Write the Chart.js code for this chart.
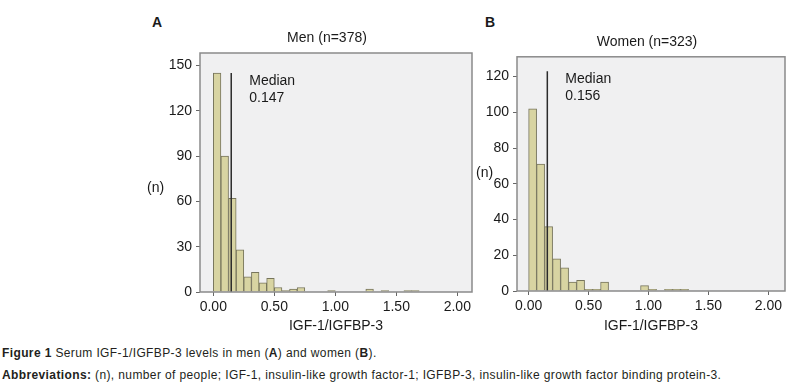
<!DOCTYPE html>
<html lang="en">
<head>
    <meta charset="UTF-8">
    <title>Serum IGF-1/IGFBP-3 levels</title>
    <script src="https://cdn.jsdelivr.net/npm/chart.js"></script>
    <style>
        body {
            margin: 0;
            width: 805px;
            height: 388px;
            position: relative;
            overflow: hidden;
            background: #fff;
            color: #1a1a1a;
            font-family: 'Liberation Sans', Arial, sans-serif;
        }
        .abs { position: absolute; }
        #men-box { left: 130px; top: 25px; width: 350px; height: 320px; }
        #women-box { left: 467px; top: 28px; width: 328px; height: 316px; }
        .panel { font-size: 14px; font-weight: bold; line-height: 16px; }
        .nlab { font-size: 14px; line-height: 16px; }
        .caption { left: 2px; font-size: 12px; line-height: 14px; letter-spacing: 0.38px; white-space: nowrap; color: #231f20; }
    </style>
</head>
<body>
    <div class="abs panel" style="left:152px; top:14px;">A</div>
    <div class="abs panel" style="left:485px; top:14px;">B</div>

    <div class="abs" id="men-box"><canvas id="menChart"></canvas></div>
    <div class="abs" id="women-box"><canvas id="womenChart"></canvas></div>

    <div class="abs nlab" style="left:147px; top:179px;">(n)</div>
    <div class="abs nlab" style="left:476px; top:164px;">(n)</div>

    <div class="abs caption" style="top:346px;"><b>Figure 1</b> Serum IGF-1/IGFBP-3 levels in men (<b>A</b>) and women (<b>B</b>).</div>
    <div class="abs caption" style="top:368px;"><b>Abbreviations:</b> (n), number of people; IGF-1, insulin-like growth factor-1; IGFBP-3, insulin-like growth factor binding protein-3.</div>

    <script>
        // histogram bins start at 0.00, counts
        const menBinWidth = 0.0625;
        const menCounts = [145, 90, 62, 28, 10, 13, 6, 9, 3, 1, 2, 3, 0, 0, 0, 1, 0, 0, 0, 0, 2, 0, 1, 0, 0, 1, 1];
        const menMedian = 0.147;
        const menMedianTop = 145;
        const menYTicks = [0, 30, 60, 90, 120, 150];

        const womenBinWidth = 0.0667;
        const womenCounts = [102, 71, 36, 18, 13, 5, 6, 1, 1, 5, 0, 0, 0, 0, 3, 1, 0, 1, 1, 1];
        const womenMedian = 0.156;
        const womenMedianTop = 123;
        const womenYTicks = [0, 20, 40, 60, 80, 100, 120];

        const xTicks = [0, 0.5, 1, 1.5, 2];

        Chart.defaults.font.family = "'Liberation Sans', Arial, sans-serif";
        Chart.defaults.font.size = 14;
        Chart.defaults.color = '#1a1a1a';

        // grey plot background + frame around the chart area
        function plotBox() {
            return {
                id: 'plotBox',
                beforeDraw(chart) {
                    const a = chart.chartArea;
                    const ctx = chart.ctx;
                    ctx.save();
                    ctx.fillStyle = '#f0f0f1';
                    ctx.fillRect(a.left, a.top, a.right - a.left, a.bottom - a.top);
                    ctx.restore();
                },
                afterDraw(chart) {
                    const a = chart.chartArea;
                    const ctx = chart.ctx;
                    ctx.save();
                    ctx.strokeStyle = '#8a8a8a';
                    ctx.lineWidth = 1.5;
                    ctx.strokeRect(a.left, a.top, a.right - a.left, a.bottom - a.top);
                    ctx.restore();
                }
            };
        }

        // panel title, a bit left of the plot centre like in the figure
        function panelTitle(text, dx) {
            return {
                id: 'panelTitle',
                afterDraw(chart) {
                    const a = chart.chartArea;
                    const ctx = chart.ctx;
                    ctx.save();
                    ctx.fillStyle = '#1a1a1a';
                    ctx.font = "14px 'Liberation Sans', Arial, sans-serif";
                    ctx.textAlign = 'center';
                    ctx.textBaseline = 'middle';
                    ctx.fillText(text, (a.left + a.right) / 2 + dx, a.top - 15);
                    ctx.restore();
                }
            };
        }

        function medianLabel(value, top) {
            return {
                id: 'medianLabel',
                afterDatasetsDraw(chart) {
                    const ctx = chart.ctx;
                    const x = chart.scales.x.getPixelForValue(value) + 18;
                    const y = chart.scales.y.getPixelForValue(top) + 8;
                    ctx.save();
                    ctx.fillStyle = '#1a1a1a';
                    ctx.font = "14px 'Liberation Sans', Arial, sans-serif";
                    ctx.textBaseline = 'middle';
                    ctx.fillText('Median', x, y);
                    ctx.fillText(value.toFixed(3), x, y + 17);
                    ctx.restore();
                }
            };
        }

        function makeHistogram(id, o) {
            const bars = o.counts.map((c, i) => ({ x: (i + 0.5) * o.binWidth, y: c }));
            return new Chart(document.getElementById(id), {
                type: 'bar',
                data: {
                    datasets: [
                        {
                            type: 'line',
                            data: [{ x: o.median, y: 0 }, { x: o.median, y: o.medianTop }],
                            borderColor: '#2b2b2b',
                            borderWidth: 1.5,
                            pointRadius: 0,
                            order: 0
                        },
                        {
                            data: bars,
                            backgroundColor: '#d8d4a2',
                            borderColor: '#77755c',
                            borderWidth: 1,
                            barPercentage: 1,
                            categoryPercentage: 1,
                            order: 1
                        }
                    ]
                },
                options: {
                    responsive: true,
                    maintainAspectRatio: false,
                    animation: false,
                    layout: { padding: { left: 0, right: o.padRight, top: o.padTop, bottom: 0 } },
                    plugins: {
                        legend: { display: false },
                        tooltip: { enabled: false },
                        title: { display: false }
                    },
                    scales: {
                        x: {
                            type: 'linear',
                            offset: false,
                            min: o.xMin,
                            max: o.xMax,
                            afterFit: s => { s.height = 53; },
                            afterBuildTicks: s => { s.ticks = xTicks.map(v => ({ value: v })); },
                            border: { display: false },
                            grid: { offset: false, drawOnChartArea: false, drawTicks: true, tickLength: 4, color: '#666' },
                            ticks: {
                                padding: 3,
                                maxRotation: 0,
                                autoSkip: false,
                                color: '#1a1a1a',
                                callback: v => Number(v).toFixed(2)
                            },
                            title: {
                                display: true,
                                text: 'IGF-1/IGFBP-3',
                                color: '#1a1a1a',
                                font: { size: 14 },
                                padding: { top: 0, bottom: o.xTitlePad }
                            }
                        },
                        y: {
                            min: 0,
                            max: o.yMax,
                            afterFit: s => { s.width = o.yAxisWidth; },
                            afterBuildTicks: s => { s.ticks = o.yTicks.map(v => ({ value: v })); },
                            border: { display: false },
                            grid: { drawOnChartArea: false, drawTicks: true, tickLength: 4, color: '#666' },
                            ticks: { padding: 4, color: '#1a1a1a' }
                        }
                    }
                },
                plugins: [plotBox(), panelTitle(o.title, o.titleShift), medianLabel(o.median, o.medianTop)]
            });
        }

        makeHistogram('menChart', {
            title: 'Men (n=378)',
            titleShift: -9,
            counts: menCounts,
            binWidth: menBinWidth,
            median: menMedian,
            medianTop: menMedianTop,
            yTicks: menYTicks,
            xMin: -0.109,
            xMax: 2.1205,
            yMax: 158.3,
            yAxisWidth: 70,
            padTop: 28,
            padRight: 8,
            xTitlePad: 10
        });

        makeHistogram('womenChart', {
            title: 'Women (n=323)',
            titleShift: -4,
            counts: womenCounts,
            binWidth: womenBinWidth,
            median: womenMedian,
            medianTop: womenMedianTop,
            yTicks: womenYTicks,
            xMin: -0.097,
            xMax: 2.139,
            yMax: 131.1,
            yAxisWidth: 50,
            padTop: 28.8,
            padRight: 10,
            xTitlePad: 9
        });
    </script>
</body>
</html>
